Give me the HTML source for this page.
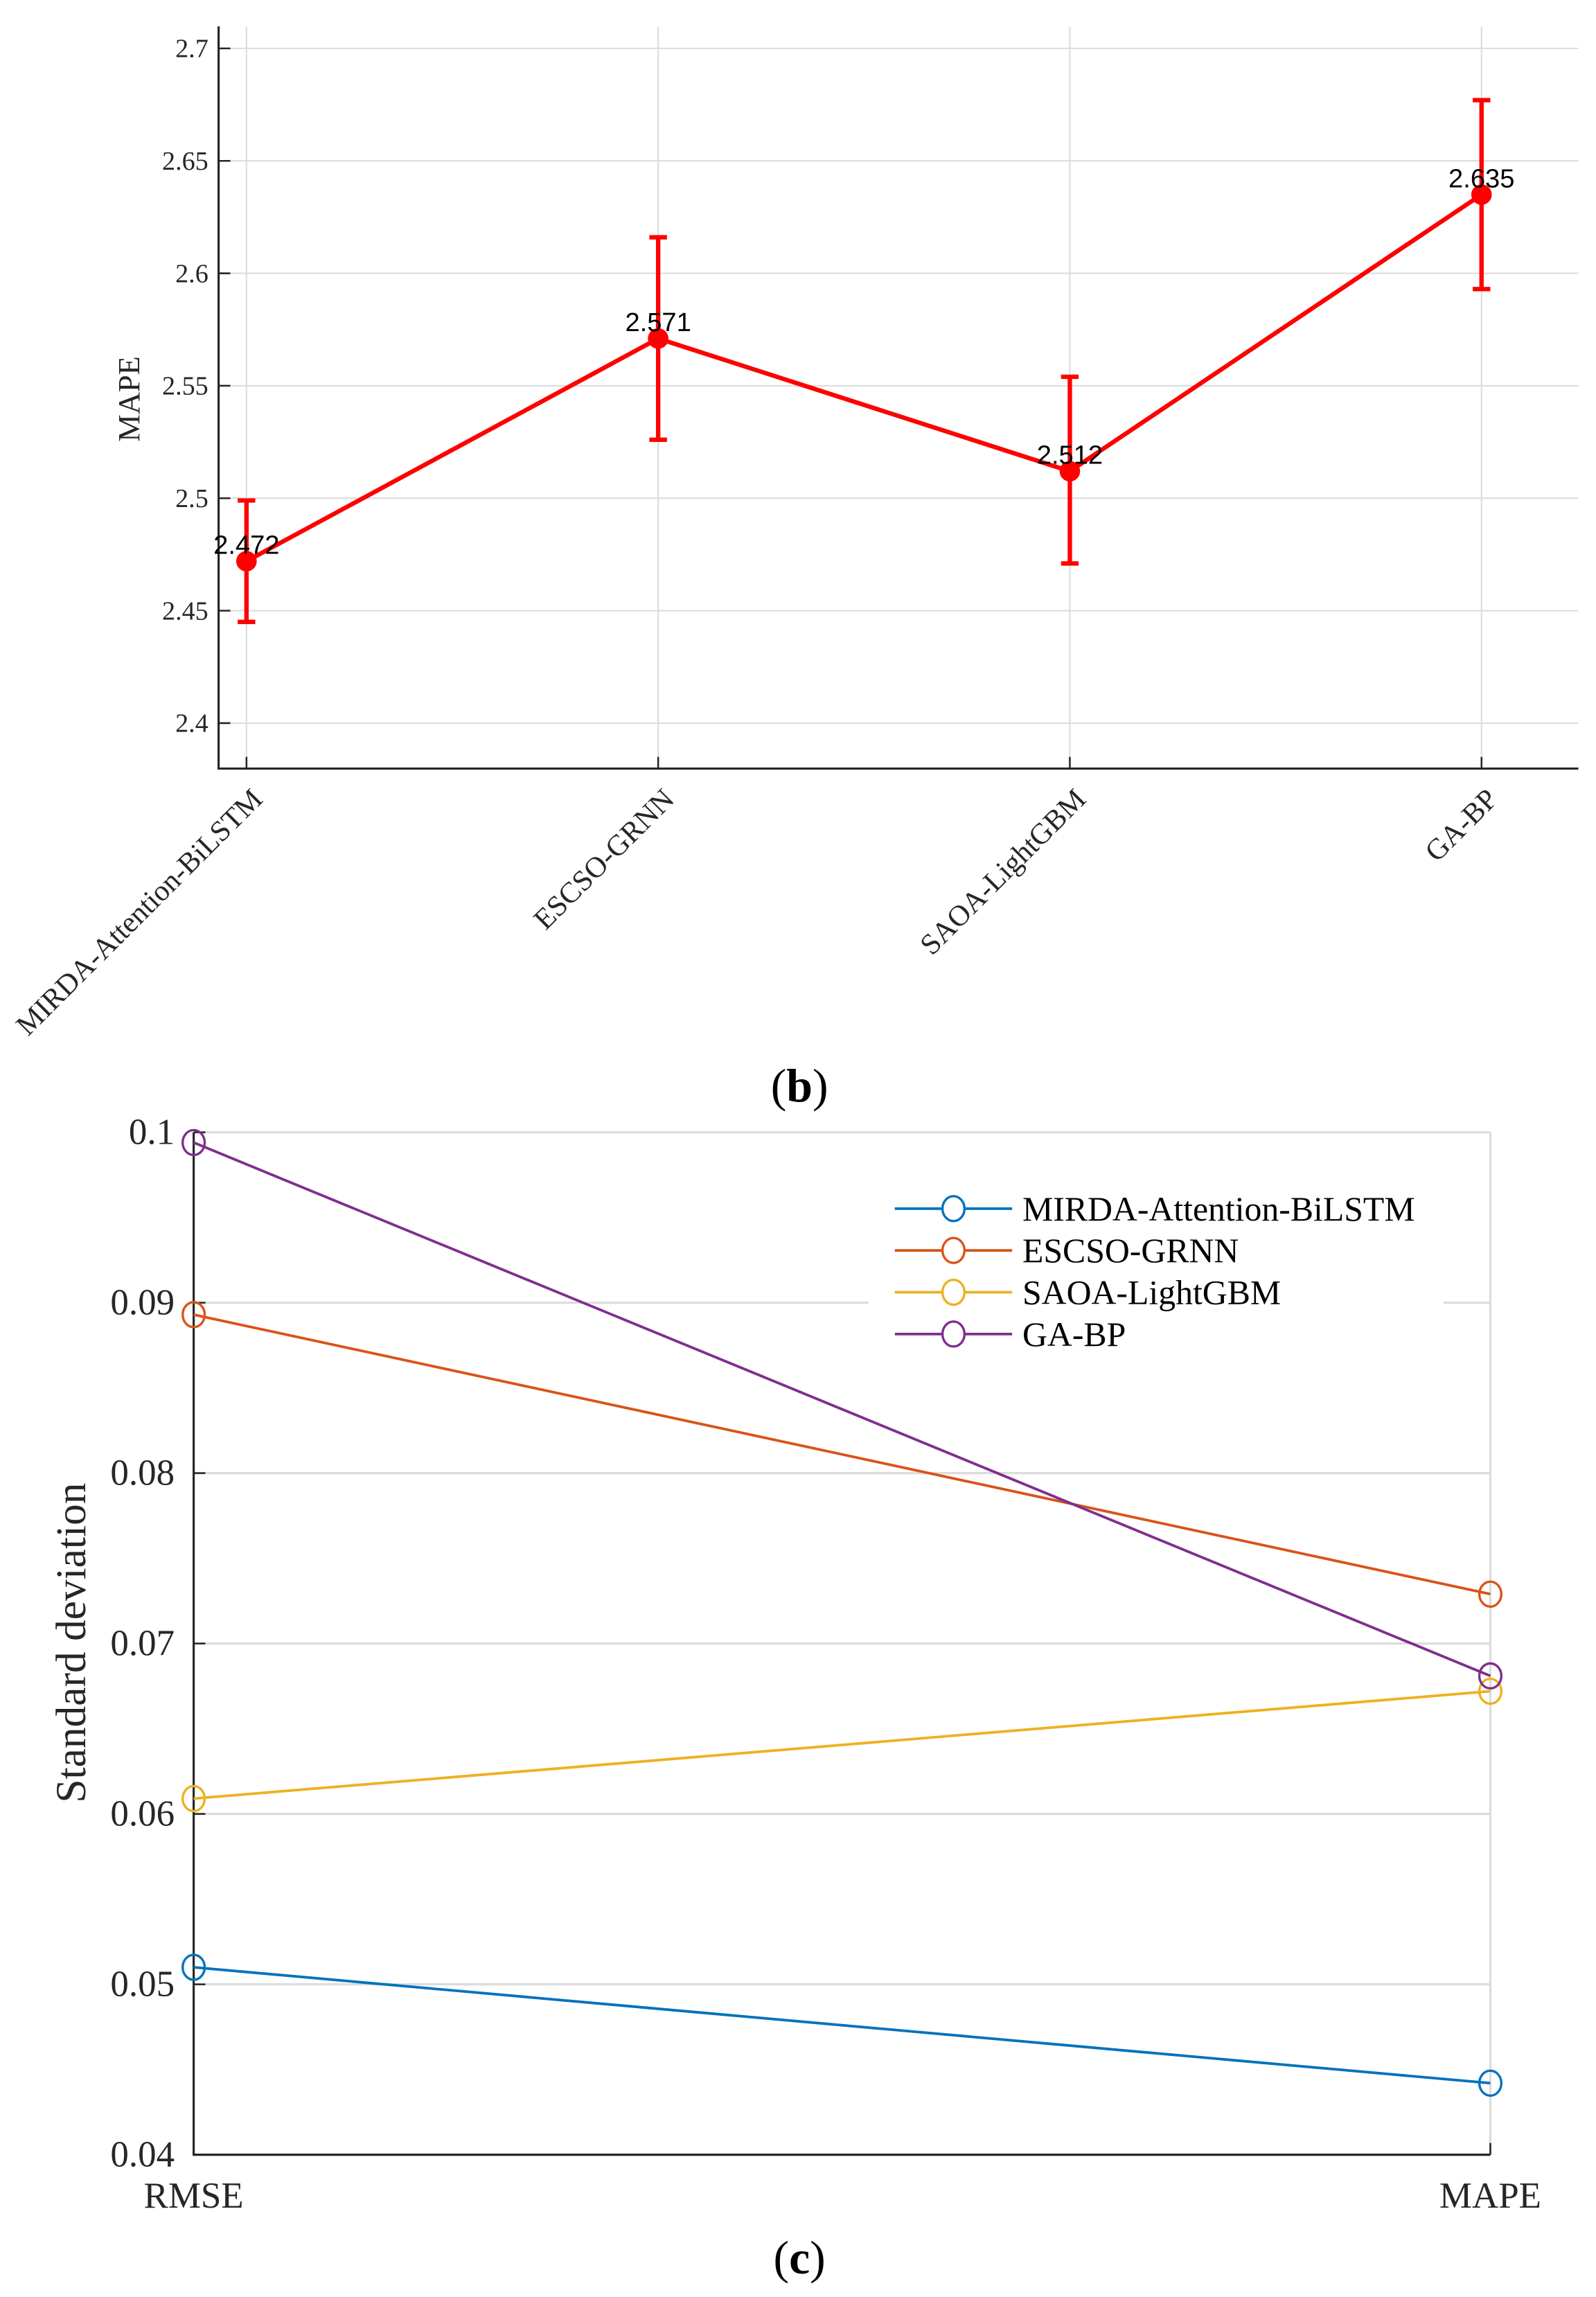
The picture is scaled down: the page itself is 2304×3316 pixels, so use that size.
<!DOCTYPE html>
<html><head><meta charset="utf-8"><style>html,body{margin:0;padding:0;background:#fff}svg{display:block}</style></head>
<body>
<svg id="fig" width="2304" height="3316" viewBox="0 0 1088 1566" xmlns="http://www.w3.org/2000/svg" font-family="'Liberation Serif', serif">
<rect width="1088" height="1566" fill="#fff"/>
<g id="top"></g>
<text x="545" y="751" text-anchor="middle" font-size="32">(<tspan font-weight="bold">b</tspan>)</text>
<g id="bot"></g>
<text x="545" y="1550" text-anchor="middle" font-size="32">(<tspan font-weight="bold">c</tspan>)</text>
</svg>
<script>
// ---- chart b data ----
const bCategories = ["MIRDA-Attention-BiLSTM","ESCSO-GRNN","SAOA-LightGBM","GA-BP"];
const bMeans = [2.472, 2.571, 2.512, 2.635];
const bLower = [2.445, 2.526, 2.471, 2.593];
const bUpper = [2.499, 2.616, 2.554, 2.677];
const bTicks = [2.4, 2.45, 2.5, 2.55, 2.6, 2.65, 2.7];
const bTickLabels = ["2.4","2.45","2.5","2.55","2.6","2.65","2.7"];
// ---- chart c data ----
const cCategories = ["RMSE","MAPE"];
const cSeriesNames = ["MIRDA-Attention-BiLSTM","ESCSO-GRNN","SAOA-LightGBM","GA-BP"];
const cMirda = [0.0510, 0.0442];
const cEscso = [0.0893, 0.0729];
const cSaoa = [0.0609, 0.0672];
const cGabp = [0.0994, 0.0681];
const cTicks = [0.04,0.05,0.06,0.07,0.08,0.09,0.1];
const cTickLabels = ["0.04","0.05","0.06","0.07","0.08","0.09","0.1"];

const NS="http://www.w3.org/2000/svg";
function mk(parent,tag,attrs,text){const e=document.createElementNS(NS,tag);for(const k in attrs)e.setAttribute(k,attrs[k]);if(text!==undefined)e.textContent=text;parent.appendChild(e);return e;}

// chart b
(function(){
const g=document.getElementById('top');
const L=149,R=1076,T=18,B=524;
const y=v=>493+(2.4-v)/0.3*460;
const x=i=>168+i*(1010-168)/(bCategories.length-1);
bTicks.forEach((t,i)=>{
  const gl=mk(g,'line',{x1:L,x2:R,y1:y(t),y2:y(t),stroke:'#dcdcdc','stroke-width':1});
  
  
  mk(g,'line',{x1:L,x2:L+8,y1:y(t),y2:y(t),stroke:'#262626','stroke-width':1.2});
  const tl=mk(g,'text',{x:L-7,y:y(t)+6,'text-anchor':'end','font-size':18,fill:'#262626'},bTickLabels[i]);
  
  
});
bCategories.forEach((c,i)=>{
  mk(g,'line',{x1:x(i),x2:x(i),y1:T,y2:B,stroke:'#dcdcdc','stroke-width':1});
  mk(g,'line',{x1:x(i),x2:x(i),y1:B,y2:B-8,stroke:'#262626','stroke-width':1.2});
  const tl=mk(g,'text',{x:x(i)+12,y:B+22,'text-anchor':'end','font-size':20,fill:'#262626',transform:`rotate(-45 ${x(i)+12} ${B+22})`},c);
  
  
});
mk(g,'polyline',{points:`${L},${T} ${L},${B} ${R},${B}`,fill:'none',stroke:'#262626','stroke-width':1.5});
const yl=mk(g,'text',{x:95,y:272,'text-anchor':'middle','font-size':21,fill:'#262626',transform:'rotate(-90 95 272)'},'MAPE');


const ln=mk(g,'polyline',{points:bMeans.map((v,i)=>`${x(i)},${y(v)}`).join(' '),fill:'none',stroke:'#ff0000','stroke-width':3});


bMeans.forEach((v,i)=>{
  const eb=mk(g,'path',{d:`M${x(i)},${y(bLower[i])}V${y(bUpper[i])}M${x(i)-6},${y(bLower[i])}H${x(i)+6}M${x(i)-6},${y(bUpper[i])}H${x(i)+6}`,stroke:'#ff0000','stroke-width':3,fill:'none'});
  
  
  const p=mk(g,'circle',{cx:x(i),cy:y(v),r:7,fill:'#ff0000'});
  
  
  const lb=mk(g,'text',{x:x(i),y:y(v)-5,'text-anchor':'middle','font-size':18,'font-family':"'Liberation Sans', sans-serif",fill:'#000'},v.toFixed(3));
  
  
});
})();

// chart c
(function(){
const g=document.getElementById('bot');
const L=132,R=1016,T=772,B=1469;
const y=v=>B-(v-0.04)/0.01*116.17;
const x=i=>L+i*(R-L)/(cCategories.length-1);
cTicks.forEach((t,i)=>{
  const gl=mk(g,'line',{x1:L,x2:R,y1:y(t),y2:y(t),stroke:'#dcdcdc','stroke-width':1.5});
  
  
  mk(g,'line',{x1:L,x2:L+8,y1:y(t),y2:y(t),stroke:'#262626','stroke-width':1.2});
  const tl=mk(g,'text',{x:L-13,y:y(t)+8,'text-anchor':'end','font-size':25,fill:'#262626'},cTickLabels[i]);
  
  
});
mk(g,'line',{x1:R,x2:R,y1:T,y2:B,stroke:'#dcdcdc','stroke-width':1.5});
cCategories.forEach((c,i)=>{
  mk(g,'line',{x1:x(i),x2:x(i),y1:B,y2:B-8,stroke:'#262626','stroke-width':1.2});
  const tl=mk(g,'text',{x:x(i),y:B+36,'text-anchor':'middle','font-size':25,fill:'#262626'},c);
  
  
});
mk(g,'polyline',{points:`${L},${T} ${L},${B} ${R},${B}`,fill:'none',stroke:'#262626','stroke-width':1.5});
const yl=mk(g,'text',{x:58,y:1120,'text-anchor':'middle','font-size':29,fill:'#262626',transform:'rotate(-90 58 1120)'},'Standard deviation');


const series=[cMirda,cEscso,cSaoa,cGabp];
const colors=['#0072BD','#D95319','#EDB120','#7E2F8E'];
mk(g,'rect',{x:592,y:800,width:392,height:125,fill:'#fff'});
series.forEach((s,k)=>{
  const ln=mk(g,'polyline',{points:s.map((v,i)=>`${x(i)},${y(v)}`).join(' '),fill:'none',stroke:colors[k],'stroke-width':1.8});
  
  
  s.forEach((v,i)=>{
    const m=mk(g,'ellipse',{cx:x(i),cy:y(v),rx:7.5,ry:8.5,fill:'none',stroke:colors[k],'stroke-width':1.6});
    
    
  });
});
series.forEach((s,k)=>{
  const ly=824+k*28.5;
  const e=mk(g,'g',{});
  
  
  mk(e,'line',{x1:610,x2:690,y1:ly,y2:ly,stroke:colors[k],'stroke-width':1.8});
  mk(e,'ellipse',{cx:650,cy:ly,rx:7.5,ry:8.5,fill:'#fff',stroke:colors[k],'stroke-width':1.6});
  mk(e,'text',{x:697,y:ly+8,'font-size':23.5,fill:'#000'},cSeriesNames[k]);
});
})();
</script>
</body></html>
